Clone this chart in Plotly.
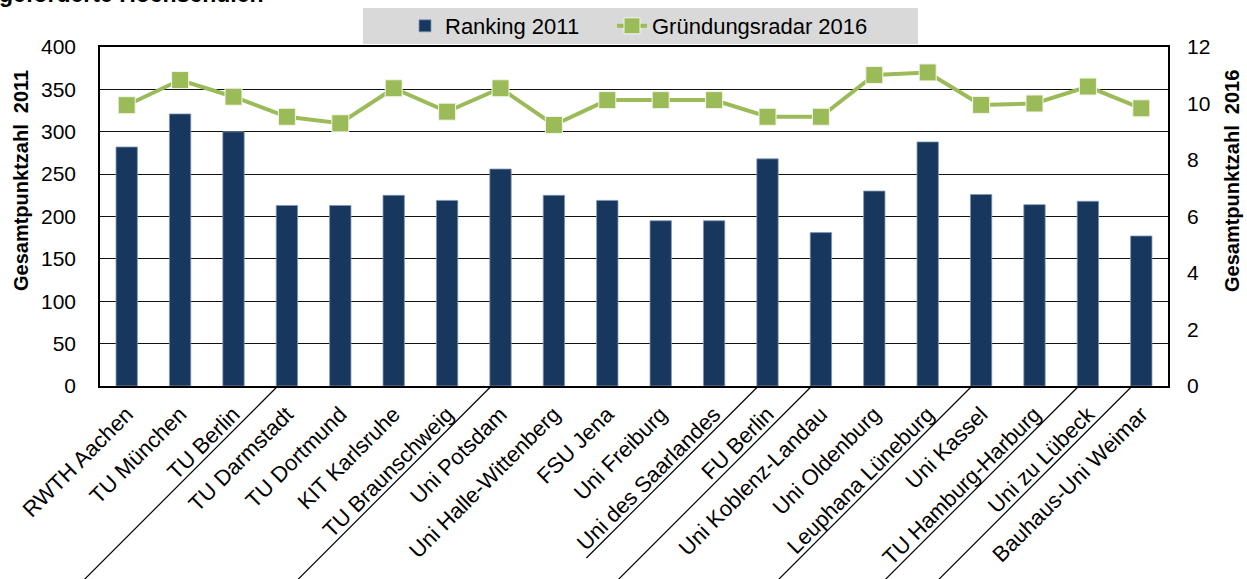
import plotly.graph_objects as go

categories = ["RWTH Aachen", "TU München", "TU Berlin", "TU Darmstadt", "TU Dortmund",
              "KIT Karlsruhe", "TU Braunschweig", "Uni Potsdam", "Uni Halle-Wittenberg",
              "FSU Jena", "Uni Freiburg", "Uni des Saarlandes", "FU Berlin",
              "Uni Koblenz-Landau", "Uni Oldenburg", "Leuphana Lüneburg", "Uni Kassel",
              "TU Hamburg-Harburg", "Uni zu Lübeck", "Bauhaus-Uni Weimar"]
ranking_2011 = [282, 321, 300, 213, 213, 225, 219, 256, 225, 219,
                195, 195, 268, 181, 230, 288, 226, 214, 218, 177]
gruendungsradar_2016 = [9.94, 10.83, 10.24, 9.53, 9.30, 10.54, 9.71, 10.54, 9.24, 10.12,
                        10.12, 10.12, 9.53, 9.53, 11.01, 11.10, 9.95, 10.00, 10.60, 9.83]
separator_labels = ["TU Darmstadt", "Uni Potsdam", "FU Berlin", "Uni Koblenz-Landau",
                    "Uni Kassel", "Uni zu Lübeck", "Bauhaus-Uni Weimar"]
left_ticks = list(range(0, 401, 50))
right_ticks = list(range(0, 13, 2))
left_title = "Gesamtpunktzahl  2011"
right_title = "Gesamtpunktzahl  2016"
top_title = "geförderte Hochschulen"

FONT = "Arial, Liberation Sans, sans-serif"
NAVY = "#17375e"
GREEN = "#9bbb59"

W, H = 1247, 579
ML, MR, MT, MB = 100, 79, 47, 193
PW, PH = W - ML - MR, H - MT - MB

fig = go.Figure()
fig.add_trace(go.Bar(
    x=categories, y=ranking_2011, name="Ranking 2011",
    marker=dict(color=NAVY, line=dict(color="#8197b5", width=0.8)),
    yaxis="y", legend="legend"))
fig.add_trace(go.Scatter(
    x=categories, y=gruendungsradar_2016, name="Gründungsradar 2016",
    mode="lines+markers", yaxis="y2", legend="legend2",
    line=dict(color=GREEN, width=4),
    marker=dict(symbol="square", size=17, color=GREEN, line=dict(color="#f2f7e8", width=1))))

def px_x(p):
    return (p - ML) / PW

def px_y(p):
    return (H - MB - p) / PH

shapes = []
# legend background box
shapes.append(dict(type="rect", xref="paper", yref="paper", layer="below",
                   x0=px_x(363), x1=px_x(918), y0=px_y(44), y1=px_y(8),
                   fillcolor="#d9d9d9", line=dict(width=0)))
# diagonal group separators below the category axis
n = len(categories)
for lab in separator_labels:
    i = categories.index(lab)
    x0 = (i + 0.33) / n
    drop = 172 if lab == "FU Berlin" else 215
    shapes.append(dict(type="line", xref="paper", yref="paper",
                       x0=x0, y0=0, x1=x0 - drop / PW, y1=-drop / PH,
                       line=dict(color="black", width=1.2)))

legend_common = dict(orientation="h", xanchor="left", yanchor="middle",
                     bgcolor="rgba(0,0,0,0)", font=dict(size=22, family=FONT, color="black"))

title_font = dict(size=20, family=FONT, color="black", weight="bold")

fig.update_layout(
    width=W, height=H,
    margin=dict(l=ML, r=MR, t=MT, b=MB, autoexpand=False),
    paper_bgcolor="white", plot_bgcolor="white",
    font=dict(family=FONT, size=21, color="black"),
    bargap=0.6,
    showlegend=True,
    legend=dict(x=px_x(405), y=px_y(26), **legend_common),
    legend2=dict(x=px_x(612), y=px_y(26), **legend_common),
    xaxis=dict(type="category", range=[-0.5, n - 0.5], tickangle=-45, showline=True,
               linecolor="black", linewidth=1.5, mirror=True, showgrid=False, ticks="",
               ticklabelstandoff=5, tickfont=dict(size=22, family=FONT, color="black")),
    yaxis=dict(range=[0, 400], tickvals=left_ticks, showline=True, linecolor="black",
               linewidth=1.5, mirror=True, showgrid=True, gridcolor="#111111", gridwidth=1.3,
               ticks="", ticklabelstandoff=18, zeroline=False,
               tickfont=dict(size=21, family=FONT, color="black")),
    yaxis2=dict(range=[0, 12], tickvals=right_ticks, overlaying="y", side="right",
                showgrid=False, zeroline=False, showline=False, ticks="", ticklabelstandoff=18,
                tickfont=dict(size=21, family=FONT, color="black")),
    shapes=shapes,
    annotations=[
        dict(text="<b>" + top_title + "</b>", xref="paper", yref="paper",
             x=px_x(-3), y=px_y(9), xanchor="left", yanchor="bottom",
             showarrow=False, font=dict(size=23, family=FONT, color="black")),
        dict(text=left_title, xref="paper", yref="paper", x=px_x(21), y=px_y(181),
             xanchor="center", yanchor="middle", textangle=-90, showarrow=False,
             font=title_font),
        dict(text=right_title, xref="paper", yref="paper", x=px_x(1232), y=px_y(181),
             xanchor="center", yanchor="middle", textangle=-90, showarrow=False,
             font=title_font),
    ],
)

fig.write_html("out.html", config={"displayModeBar": False},
               post_script="document.body.style.margin='0px';document.body.style.overflow='hidden';")
